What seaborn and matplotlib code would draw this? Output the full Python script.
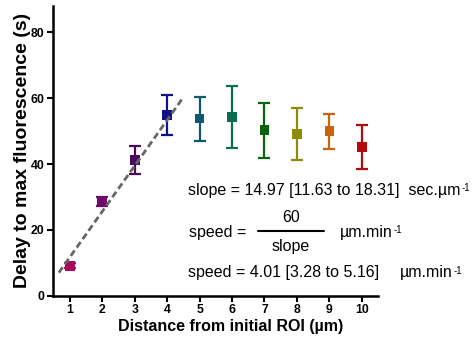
import numpy as np
import pandas as pd
import matplotlib
matplotlib.use('Agg')
import matplotlib.pyplot as plt
import matplotlib.font_manager as fm
import seaborn as sns

# data
distance = [1, 2, 3, 4, 5, 6, 7, 8, 9, 10]
delay = [9.1, 28.6, 41.2, 54.8, 53.8, 54.3, 50.3, 49.2, 50.0, 45.2]
err_low = [0.8, 1.5, 4.2, 6.0, 6.7, 9.4, 8.4, 7.9, 5.3, 6.7]
err_high = [0.8, 1.5, 4.2, 6.1, 6.5, 9.5, 8.3, 7.8, 5.3, 6.8]
colors = ['#a8095a', '#6e0a6e', '#4b0a5e', '#10108a', '#0d5a6e',
          '#0a6e50', '#0a640a', '#8c8c0a', '#c8640a', '#b40a0a']

# dashed fit line (ends)
fit_x = [0.66, 4.5]
fit_y = [7.0, 60.3]

df = pd.DataFrame({'distance': distance, 'delay': delay})

sns.set_style('ticks')
plt.rcParams['font.family'] = ['Liberation Sans', 'DejaVu Sans']
plt.rcParams['text.color'] = 'black'
plt.rcParams['axes.labelcolor'] = 'black'
plt.rcParams['xtick.color'] = 'black'
plt.rcParams['ytick.color'] = 'black'

# narrow bold font for the x label, picked from the installed files
narrow = [f for f in fm.fontManager.ttflist if f.name == 'Liberation Sans Narrow']
narrow.sort(key=lambda f: (f.weight not in ('bold', 700), 'Italic' in f.fname))
xlab_font = fm.FontProperties(fname=narrow[0].fname, size=13.2) if narrow else \
    fm.FontProperties(family='Liberation Sans', weight='bold', size=11.5)

W, H = 473, 346
fig = plt.figure(figsize=(4.73, 3.46), dpi=100)
ax = fig.add_axes([53 / W, 1 - 295.7 / H, (378 - 53) / W, (295.7 - 6) / H])

#%% error bars + square markers
for i in range(len(distance)):
    ax.errorbar(distance[i], delay[i], yerr=[[err_low[i]], [err_high[i]]],
                fmt='none', ecolor=colors[i], elinewidth=1.6, capsize=4.2,
                capthick=1.6, zorder=2)
sns.scatterplot(data=df, x='distance', y='delay', hue='distance',
                palette=colors, marker='s', s=48, linewidth=0,
                legend=False, ax=ax, zorder=3)

sns.lineplot(x=fit_x, y=fit_y, ax=ax, color='#666666', linewidth=2,
             linestyle=(0, (2.4, 1.3)), zorder=4)

#%% axes
ax.set_xlim(0.48, 10.5)
ax.set_ylim(0, 88)
ax.set_xticks(distance)
ax.set_yticks([0, 20, 40, 60, 80])
sns.despine(ax=ax)
for s in ['left', 'bottom']:
    ax.spines[s].set_linewidth(1.8)
    ax.spines[s].set_color('black')
ax.tick_params(width=1.5, length=4, color='black', labelsize=8.8, pad=2)
for lab in ax.get_xticklabels() + ax.get_yticklabels():
    lab.set_fontweight('bold')

ax.set_xlabel('Distance from initial ROI (µm)', fontproperties=xlab_font,
              labelpad=2)
ax.xaxis.label.set_x(0.545)
ax.set_ylabel('Delay to max fluorescence (s)', fontsize=14, fontweight='bold',
              labelpad=0)

#%% annotations (positions in pixels from top-left)
def put(x, y, s, sup=None, **kw):
    t = fig.text(x / W, 1 - y / H, s, fontsize=11.5, va='center', **kw)
    if sup:
        ax.annotate(sup, xy=(1, 0.95), xycoords=t, xytext=(0.5, 0),
                    textcoords='offset points', fontsize=7,
                    va='top', ha='left', annotation_clip=False)
    return t

put(188, 190, 'slope = 14.97 [11.63 to 18.31]  sec.µm', sup='-1')
put(189, 232, 'speed =')
put(291, 218, '60', ha='center')
put(291, 246, 'slope', ha='center')
put(340, 232, 'µm.min', sup='-1')
put(188, 273, 'speed = 4.01 [3.28 to 5.16]')
put(400, 273, 'µm.min', sup='-1')
fig.add_artist(plt.Line2D([258 / W, 324 / W], [1 - 231 / H, 1 - 231 / H],
                          color='black', linewidth=1.5))

fig.savefig('out.png', dpi=100)
